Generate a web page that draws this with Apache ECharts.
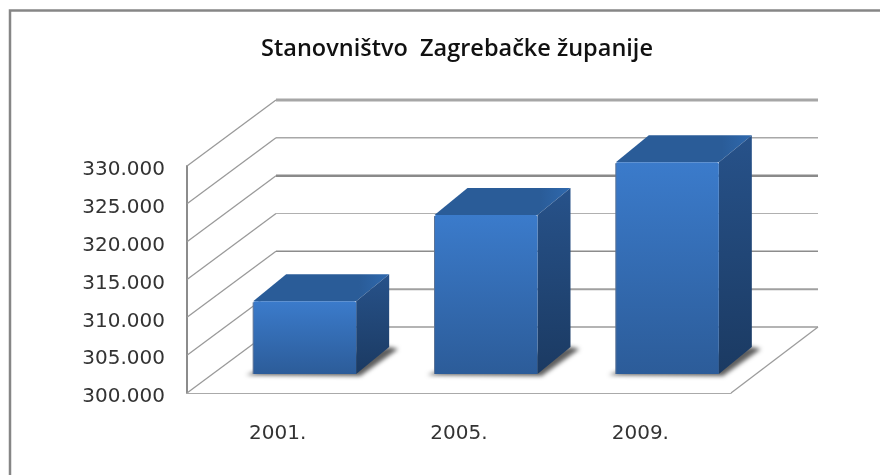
<!DOCTYPE html>
<html>
<head>
<meta charset="utf-8">
<style>html,body{margin:0;padding:0;background:#fff}#main{width:880px;height:475px}</style>
<script src="https://cdn.jsdelivr.net/npm/echarts@6/dist/echarts.min.js"></script>
</head>
<body>
<div id="main"></div>
<script>
const titleText = 'Stanovništvo  Zagrebačke županije'
const categories = ['2001.', '2005.', '2009.']
const population = [309600, 321000, 328000]
const yTicks = [300000, 305000, 310000, 315000, 320000, 325000, 330000]

// wall lines are not all the same weight in the original
const gridWidths = [2, 2, 1.5, 1, 2.5, 1.5, 3]
const gridColors = ['#b4b4b4', '#a0a0a0', '#8c8c8c', '#b0b0b0', '#8a8a8a', '#a8a8a8', '#a6a6a6']

// fake 3d geometry in px
const wallDx = 89
const wallDy = 66
const barOffsetX = 27
const barOffsetY = 19
const barWidth = 103
const barDx = 33
const barDy = 27

const chart = echarts.init(document.getElementById('main'))

function renderWall(params, api) {
  const cs = params.coordSys
  const i = params.dataIndex
  const y = api.coord([0, api.value(0)])[1]
  const x0 = cs.x
  const x1 = cs.x + cs.width
  return {
    type: 'group',
    children: [
      {
        type: 'line',
        shape: { x1: x0, y1: y, x2: x0 + wallDx, y2: y - wallDy },
        style: { stroke: '#9a9a9a', lineWidth: 1.3 }
      },
      {
        type: 'line',
        shape: { x1: x0 + wallDx, y1: y - wallDy, x2: x1 + wallDx - 2, y2: y - wallDy },
        style: { stroke: gridColors[i], lineWidth: gridWidths[i] }
      }
    ]
  }
}

function renderBar(params, api) {
  const idx = api.value(0)
  const base = api.coord([idx, 300000])
  const top = api.coord([idx, api.value(1)])
  const l = base[0] + barOffsetX - barWidth / 2
  const r = l + barWidth
  const b = base[1] - barOffsetY
  const t = top[1] - barOffsetY
  // soft floor shadow: the shape sits off canvas so only its blur shows
  const off = 2000
  return {
    type: 'group',
    children: [
      {
        type: 'polygon',
        shape: { points: [[l - 7 - off, b + 1], [l + 4 - off, b - 3], [r + barDx - off, b - barDy], [r + barDx + 9 - off, b - barDy + 2], [r + 4 - off, b + 2]] },
        style: { fill: '#000', shadowBlur: 4, shadowColor: '#5e5e5e', shadowOffsetX: off }
      },
      {
        type: 'polygon',
        shape: { points: [[l, t], [r, t], [r + barDx, t - barDy], [l + barDx, t - barDy]] },
        style: {
          fill: new echarts.graphic.LinearGradient(0, 0, 1, 0, [
            { offset: 0, color: '#2a5c98' },
            { offset: 0.78, color: '#2a5c98' },
            { offset: 1, color: '#2f69ae' }
          ])
        }
      },
      {
        type: 'polygon',
        shape: { points: [[r, t], [r + barDx, t - barDy], [r + barDx, b - barDy], [r, b]] },
        style: {
          fill: new echarts.graphic.LinearGradient(0, 0, 0, 1, [
            { offset: 0, color: '#27528a' },
            { offset: 1, color: '#1b3a62' }
          ])
        }
      },
      {
        type: 'rect',
        shape: { x: l, y: t, width: barWidth, height: b - t, r: [2, 2, 0, 0] },
        style: {
          fill: new echarts.graphic.LinearGradient(0, 0, 0, 1, [
            { offset: 0, color: '#3b7bcb' },
            { offset: 1, color: '#2c5c99' }
          ])
        }
      },
      {
        type: 'line',
        shape: { x1: l, y1: t + 1, x2: l, y2: b },
        style: { stroke: '#5b7396', lineWidth: 1 }
      }
    ]
  }
}

chart.setOption({
  animation: false,
  backgroundColor: '#fff',
  title: {
    text: titleText,
    left: 452,
    top: 32,
    textAlign: 'center',
    textStyle: { fontFamily: 'Open Sans', fontWeight: 600, fontSize: 23.5, color: '#111' }
  },
  graphic: [{
    type: 'polyline',
    shape: { points: [[10, 475], [10, 10.5], [880, 10.5]] },
    style: { stroke: '#868686', lineWidth: 2.5, fill: null },
    silent: true
  }],
  grid: { left: 187, right: 149, top: 166, bottom: 82 },
  xAxis: {
    type: 'category',
    data: categories,
    axisTick: { show: false },
    axisLine: { lineStyle: { color: '#aaa', width: 1 } },
    axisLabel: { margin: 31, fontFamily: 'DejaVu Sans', fontSize: 20, color: '#333' }
  },
  yAxis: {
    type: 'value',
    min: yTicks[0],
    max: yTicks[yTicks.length - 1],
    interval: 5000,
    axisTick: { show: false },
    axisLine: { show: true, lineStyle: { color: '#8c8c8c', width: 2 } },
    splitLine: { show: false },
    axisLabel: {
      margin: 22,
      verticalAlign: 'top',
      lineHeight: 8,
      fontFamily: 'DejaVu Sans',
      fontSize: 20,
      color: '#333',
      formatter: v => String(v).replace(/(\d{3})$/, '.$1')
    }
  },
  series: [
    {
      type: 'custom',
      renderItem: renderWall,
      data: yTicks,
      encode: { y: 0 },
      silent: true,
      z: 1
    },
    {
      type: 'custom',
      renderItem(params, api) {
        // floor edge on the right
        const cs = params.coordSys
        const b = cs.y + cs.height
        const x1 = cs.x + cs.width
        return {
          type: 'line',
          shape: { x1: x1, y1: b, x2: x1 + wallDx - 2, y2: b - wallDy },
          style: { stroke: '#9c9c9c', lineWidth: 1.3 }
        }
      },
      data: [0],
      silent: true,
      z: 1
    },
    {
      type: 'custom',
      renderItem: renderBar,
      data: categories.map((c, i) => [i, population[i]]),
      encode: { x: 0, y: 1 },
      silent: true,
      z: 3
    }
  ]
})
</script>
</body>
</html>
